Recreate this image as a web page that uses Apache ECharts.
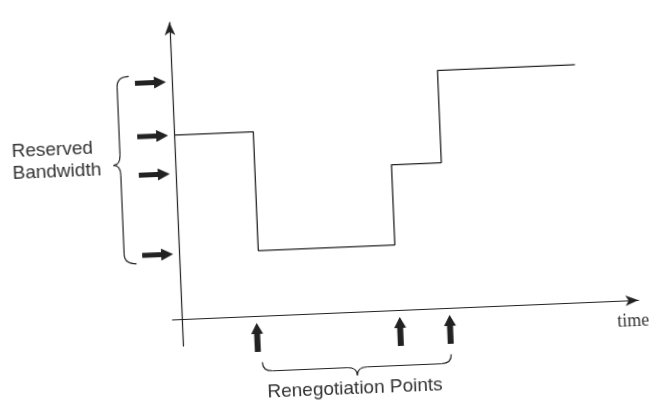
<!DOCTYPE html>
<html lang="en">
<head>
<meta charset="UTF-8">
<title>Reserved Bandwidth</title>
<script src="https://cdn.jsdelivr.net/npm/echarts@6/dist/echarts.min.js"></script>
<style>
    html, body { margin: 0; padding: 0; background: #fff; }
    /* the source is a slightly tilted scan, so the whole drawing is turned a little */
    #main { width: 649px; height: 402px; transform: rotate(-2.4deg); transform-origin: 324.5px 201px; }
</style>
</head>
<body>
<div id="main"></div>
<script type="text/javascript">
    // times where the reservation is set, and the bandwidth held from there on
    var stepTimes  = [0, 17, 46.3, 57, 86.5];
    var stepLevels = [62, 22, 49, 80, 80];
    // renegotiation points on the time axis
    var renegTimes = [16, 46.7, 57.4];
    // reserved bandwidth levels pointed at on the y axis
    var bwLevels = [80, 62, 49, 22];
    // texts
    var xName = 'time';
    var bwName = ['Reserved', 'Bandwidth'];
    var renegName = 'Renegotiation Points';

    var ink = '#222';
    var rightArrow = 'path://M0,3.5 L19,3.5 L19,0 L31,6 L19,12 L19,8.5 L0,8.5 Z';
    var upArrow = 'path://M3,29 L3,11 L0,11 L6,0 L12,11 L9,11 L9,29 Z';

    var chart = echarts.init(document.getElementById('main'));
    var axisCommon = {
        type: 'value',
        axisLine: {
            show: true,
            onZero: true,
            symbol: ['none', 'arrow'],
            symbolSize: [8, 13],
            lineStyle: { color: ink, width: 1.2 }
        },
        axisTick: { show: false },
        axisLabel: { show: false },
        splitLine: { show: false }
    };

    var option = {
        animation: false,
        backgroundColor: '#fff',
        grid: { left: 167.7, right: 15, top: 16, bottom: 62 },
        xAxis: Object.assign({}, axisCommon, { min: -2, max: 98 }),
        yAxis: Object.assign({}, axisCommon, { min: -9, max: 100 }),
        series: [
            {
                name: 'bandwidth',
                type: 'line',
                step: 'end',
                symbol: 'none',
                silent: true,
                lineStyle: { color: ink, width: 1.3 },
                data: stepTimes.map(function (t, i) { return [t, stepLevels[i]]; })
            },
            {
                name: 'levels',
                type: 'scatter',
                clip: false,
                silent: true,
                symbol: rightArrow,
                symbolSize: [31, 12],
                itemStyle: { color: ink, opacity: 1 },
                data: bwLevels.map(function (v) { return [-4.6, v]; })
            },
            {
                name: 'renegotiation',
                type: 'scatter',
                clip: false,
                silent: true,
                symbol: upArrow,
                symbolSize: [12, 29],
                itemStyle: { color: ink, opacity: 1 },
                data: renegTimes.map(function (t) { return [t, -7.15]; })
            }
        ]
    };
    chart.setOption(option);

    // braces and texts, placed from the axis positions
    function px(x, y) { return chart.convertToPixel({ gridIndex: 0 }, [x, y]); }
    var braceStyle = { stroke: ink, fill: null, lineWidth: 1.2 };
    function seg(a, b) {
        return { type: 'line', shape: { x1: a[0], y1: a[1], x2: b[0], y2: b[1] }, style: braceStyle };
    }
    function curve(a, c, b) {
        return { type: 'bezierCurve', shape: { x1: a[0], y1: a[1], cpx1: c[0], cpy1: c[1], x2: b[0], y2: b[1] }, style: braceStyle };
    }

    var r = 10;
    var bTop = px(0, Math.max.apply(null, bwLevels))[1] - 7;
    var bBot = px(0, Math.min.apply(null, bwLevels))[1] + 8;
    var bTip = bTop + (bBot - bTop) * 0.47;
    var xe = px(-4.6, 0)[0] - 21.5, xs = xe - 12, xt = xs - 7;
    var leftBrace = [
        curve([xe, bTop], [xs, bTop], [xs, bTop + r]),
        seg([xs, bTop + r], [xs, bTip - r]),
        curve([xs, bTip - r], [xs, bTip], [xt, bTip]),
        curve([xt, bTip], [xs, bTip], [xs, bTip + r]),
        seg([xs, bTip + r], [xs, bBot - r]),
        curve([xs, bBot - r], [xs, bBot], [xe, bBot])
    ];

    var x1 = px(renegTimes[0], 0)[0] + 4;
    var x2 = px(renegTimes[renegTimes.length - 1], 0)[0];
    var xm = (x1 + x2) / 2;
    var ye = px(0, -7.15)[1] + 25, ys = ye + 9, yt = ys + 8;
    var bottomBrace = [
        curve([x1, ye], [x1, ys], [x1 + r, ys]),
        seg([x1 + r, ys], [xm - r, ys]),
        curve([xm - r, ys], [xm, ys], [xm, yt]),
        curve([xm, yt], [xm, ys], [xm + r, ys]),
        seg([xm + r, ys], [x2 - r, ys]),
        curve([x2 - r, ys], [x2, ys], [x2, ye])
    ];

    var xEnd = px(98, 0);
    var sans = '19px "Liberation Sans", Arial, sans-serif';
    var texts = [
        { type: 'text', x: 14, y: bTip - 18, style: { text: bwName[0], font: sans, fill: '#333', textAlign: 'left', textVerticalAlign: 'middle' } },
        { type: 'text', x: 14, y: bTip + 4, style: { text: bwName[1], font: sans, fill: '#333', textAlign: 'left', textVerticalAlign: 'middle' } },
        { type: 'text', x: xm - 3, y: yt + 13, style: { text: renegName, font: sans, fill: '#333', textAlign: 'center', textVerticalAlign: 'middle' } },
        { type: 'text', x: xEnd[0] + 10, y: xEnd[1] + 21, style: { text: xName, font: '18px "Liberation Serif", "Times New Roman", serif', fill: '#333', textAlign: 'right', textVerticalAlign: 'middle' } }
    ];

    chart.setOption({ graphic: leftBrace.concat(bottomBrace, texts) });
</script>
</body>
</html>
